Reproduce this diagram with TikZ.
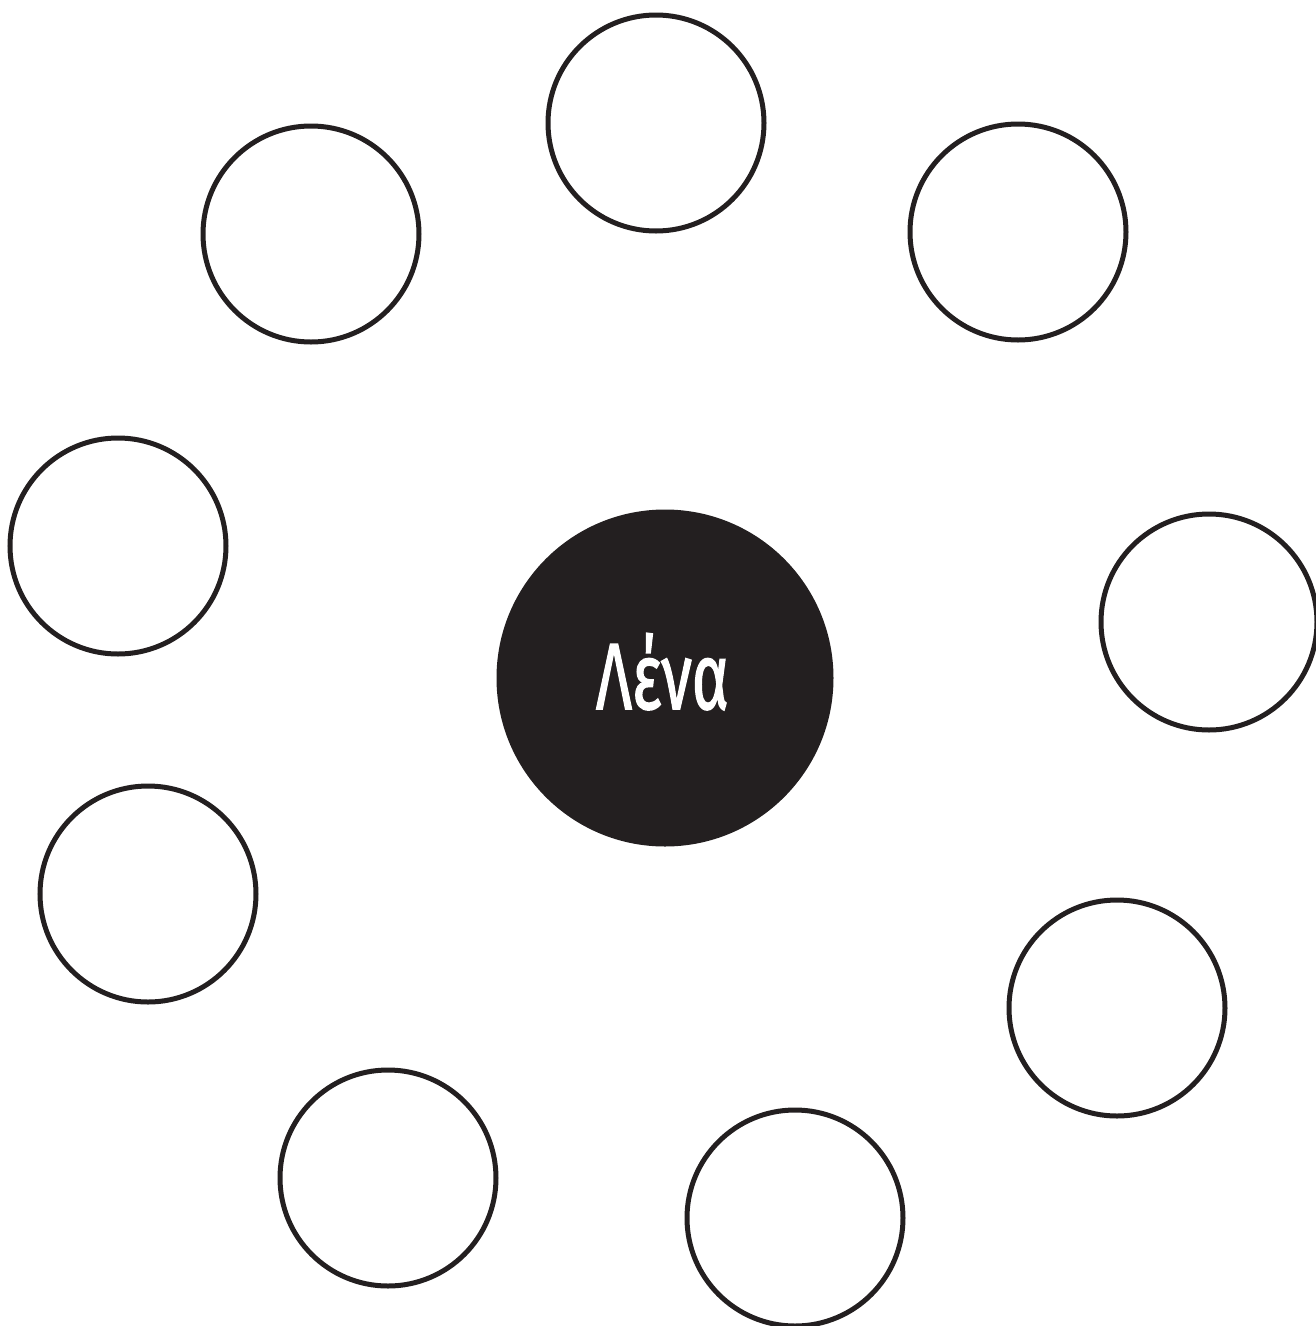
\documentclass[tikz,border=0pt]{standalone}
\usepackage{fontspec}
\setmainfont{Fira Sans}
\newfontfamily\labfont{Fira Sans}[FakeBold=1.6]
\definecolor{ink}{HTML}{231F20}
\begin{document}
\begin{tikzpicture}[x=1pt,y=-1pt,
  ring/.style={circle,draw=ink,line width=5pt,minimum size=216pt,inner sep=0pt},
  hub/.style={circle,fill=ink,minimum size=337pt,inner sep=0pt}]
\useasboundingbox (0,0) rectangle (1316,1326);
\node[hub] (c) at (665,678) {};
\node[anchor=base,text=white,inner sep=0pt] (t) at (662.5,709) {\fontsize{94}{100}\labfont\scalebox{0.67}[1]{Λένα}};
\node[ring] (n1) at (656,123) {};
\node[ring] (n2) at (311,234) {};
\node[ring] (n3) at (1018,232) {};
\node[ring] (n4) at (118,546) {};
\node[ring] (n5) at (1209,622) {};
\node[ring] (n6) at (148,894) {};
\node[ring] (n7) at (388,1178) {};
\node[ring] (n8) at (795,1218) {};
\node[ring] (n9) at (1117,1008) {};
\end{tikzpicture}
\end{document}
